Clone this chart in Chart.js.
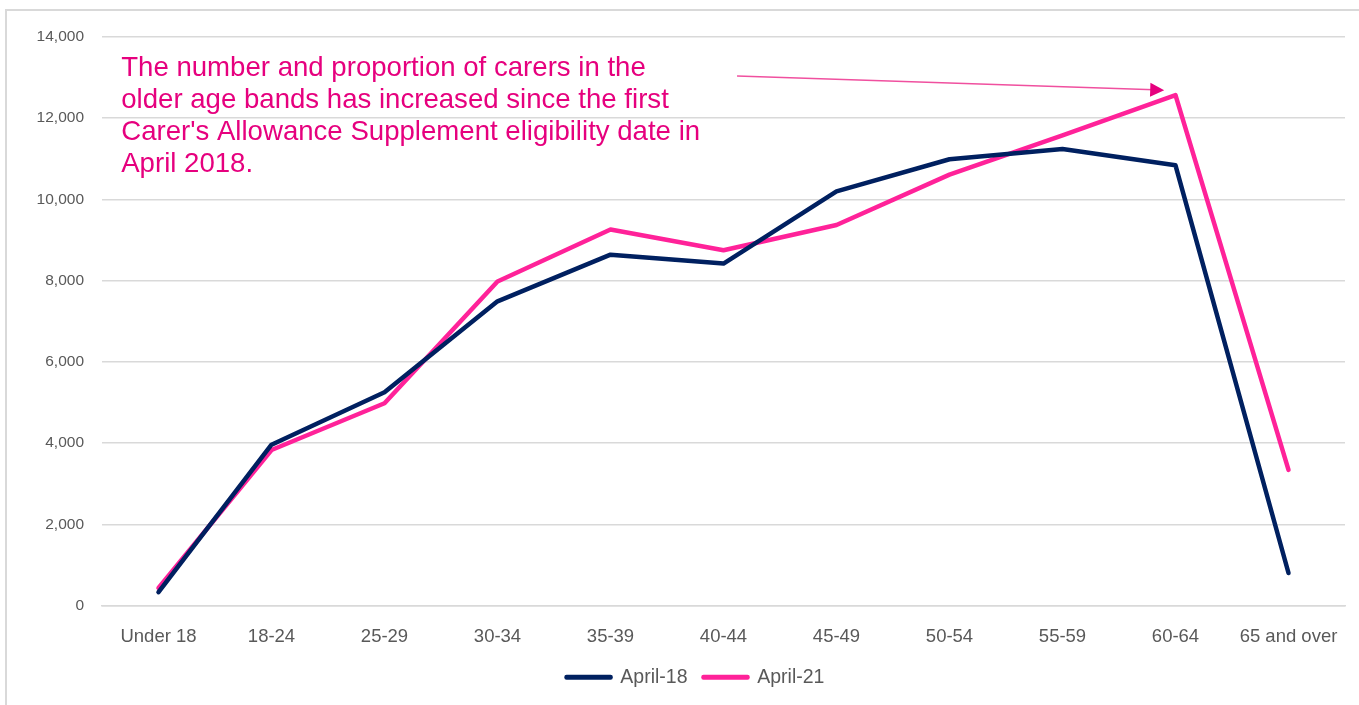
<!DOCTYPE html>
<html lang="en">
<head>
    <meta charset="UTF-8">
    <title>Carers by age band</title>
    <script src="https://cdn.jsdelivr.net/npm/chart.js@4.4.3/dist/chart.umd.min.js"></script>
    <style>
        html, body { margin: 0; padding: 0; background: #fff; }
        #wrap { position: relative; width: 1359px; height: 705px; }
        #frame {
            position: absolute; left: 5px; top: 9px; width: 1400px; height: 800px;
            border-left: 2px solid #d9d9d9; border-top: 2px solid #d9d9d9;
            pointer-events: none;
        }
    </style>
</head>
<body>
<div id="wrap">
    <canvas id="carersChart" width="1359" height="705"></canvas>
    <div id="frame"></div>
</div>
<script>
    const ageBands = ['Under 18', '18-24', '25-29', '30-34', '35-39', '40-44', '45-49', '50-54', '55-59', '60-64', '65 and over'];
    const april18 = [330, 3960, 5250, 7490, 8640, 8420, 10200, 10990, 11240, 10840, 800];
    const april21 = [430, 3830, 4980, 7980, 9260, 8750, 9370, 10610, 11580, 12570, 3340];
    const yTicks = [0, 2000, 4000, 6000, 8000, 10000, 12000, 14000];

    const noteLines = [
        'The number and proportion of carers in the',
        'older age bands has increased since the first',
        "Carer's Allowance Supplement eligibility date in",
        'April 2018.'
    ];

    // note box and arrow, placed in data units (category index, value)
    const notePos = { x: -0.33, y: 13570 };
    const arrowFrom = { x: 5.12, y: 13040 };
    const arrowTo = { x: 8.9, y: 12690 };

    const notePlugin = {
        id: 'note',
        afterLayout(chart) {
            // Excel centres the legend a little right of the canvas middle
            chart.legend.left += 46;
        },
        afterDatasetsDraw(chart) {
            const c = chart.ctx;
            const xs = chart.scales.x, ys = chart.scales.y;
            c.save();
            c.fillStyle = '#e6007e';
            c.font = '27.6px "Liberation Sans", Arial, sans-serif';
            c.textBaseline = 'top';
            const x0 = xs.getPixelForValue(notePos.x);
            const y0 = ys.getPixelForValue(notePos.y);
            noteLines.forEach((t, i) => c.fillText(t, x0, y0 + i * 32));

            const ax = xs.getPixelForValue(arrowFrom.x), ay = ys.getPixelForValue(arrowFrom.y);
            const bx = xs.getPixelForValue(arrowTo.x), by = ys.getPixelForValue(arrowTo.y);
            const ang = Math.atan2(by - ay, bx - ax);
            c.strokeStyle = '#f0509f';
            c.lineWidth = 1.5;
            c.beginPath();
            c.moveTo(ax, ay);
            c.lineTo(bx - 10 * Math.cos(ang), by - 10 * Math.sin(ang));
            c.stroke();
            c.fillStyle = '#e6007e';
            c.beginPath();
            c.moveTo(bx, by);
            c.lineTo(bx - 14 * Math.cos(ang) + 7 * Math.sin(ang), by - 14 * Math.sin(ang) - 7 * Math.cos(ang));
            c.lineTo(bx - 14 * Math.cos(ang) - 7 * Math.sin(ang), by - 14 * Math.sin(ang) + 7 * Math.cos(ang));
            c.closePath();
            c.fill();
            c.restore();
        }
    };

    const ctx = document.getElementById('carersChart').getContext('2d');

    new Chart(ctx, {
        type: 'line',
        data: {
            labels: ageBands,
            datasets: [
                {
                    label: 'April-18',
                    data: april18,
                    borderColor: '#002060',
                    backgroundColor: '#002060',
                    borderWidth: 4.5,
                    pointRadius: 0,
                    borderCapStyle: 'round',
                    borderJoinStyle: 'round',
                    tension: 0
                },
                {
                    label: 'April-21',
                    data: april21,
                    borderColor: '#ff2299',
                    backgroundColor: '#ff2299',
                    borderWidth: 4.5,
                    pointRadius: 0,
                    borderCapStyle: 'round',
                    borderJoinStyle: 'round',
                    tension: 0
                }
            ]
        },
        options: {
            responsive: false,
            animation: false,
            layout: { padding: { left: 0, right: 14, top: 37, bottom: 8 } },
            scales: {
                x: {
                    offset: true,
                    grid: { display: false },
                    border: { display: true, color: '#d9d9d9', width: 1.5 },
                    ticks: {
                        color: '#595959',
                        padding: 12,
                        maxRotation: 0,
                        autoSkip: false,
                        font: { family: '"Liberation Sans", Arial, sans-serif', size: 18.5 }
                    },
                    afterFit(scale) { scale.height = 46; }
                },
                y: {
                    min: 0,
                    max: 14000,
                    afterBuildTicks(scale) { scale.ticks = yTicks.map(v => ({ value: v })); },
                    grid: { color: '#d9d9d9', lineWidth: 1.5, drawTicks: false },
                    border: { display: false },
                    ticks: {
                        color: '#595959',
                        padding: 18,
                        font: { family: '"Liberation Sans", Arial, sans-serif', size: 15.5 }
                    },
                    afterFit(scale) { scale.width = 102; }
                }
            },
            plugins: {
                legend: {
                    position: 'bottom',
                    labels: {
                        color: '#595959',
                        boxWidth: 44,
                        boxHeight: 0.5,
                        padding: 16,
                        font: { family: '"Liberation Sans", Arial, sans-serif', size: 19.5 }
                    }
                },
                tooltip: { enabled: false }
            }
        },
        plugins: [notePlugin]
    });
</script>
</body>
</html>
